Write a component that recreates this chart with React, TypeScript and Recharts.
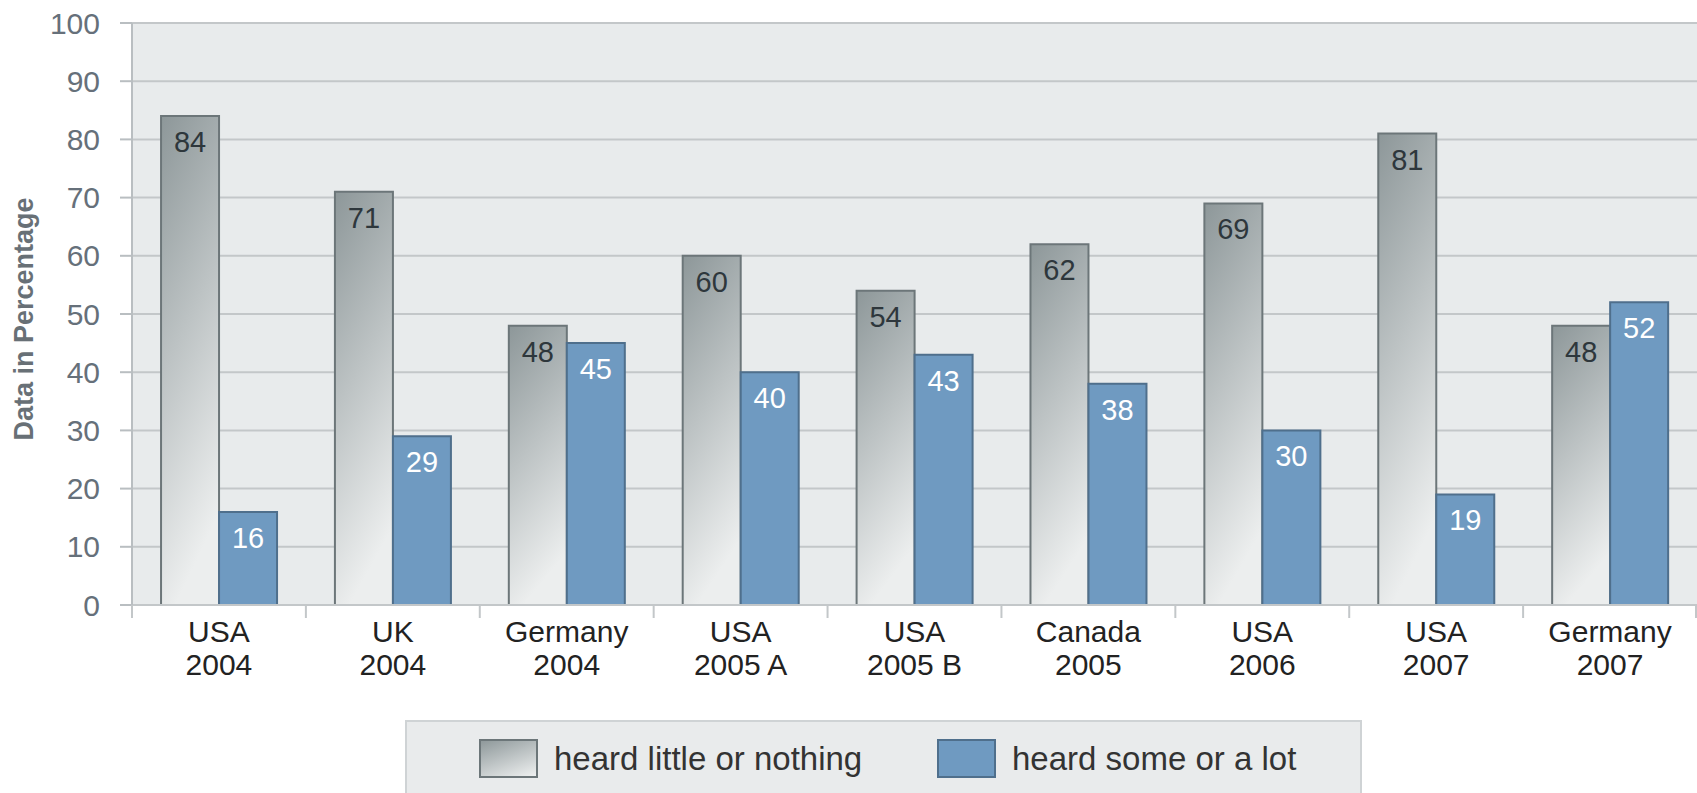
import { BarChart, Bar, XAxis, YAxis, CartesianGrid, Legend, LabelList } from 'recharts';

const categories = [
  'USA\n2004',
  'UK\n2004',
  'Germany\n2004',
  'USA\n2005 A',
  'USA\n2005 B',
  'Canada\n2005',
  'USA\n2006',
  'USA\n2007',
  'Germany\n2007',
];
const heardLittle = [84, 71, 48, 60, 54, 62, 69, 81, 48];
const heardSome = [16, 29, 45, 40, 43, 38, 30, 19, 52];
const yTicks = [0, 10, 20, 30, 40, 50, 60, 70, 80, 90, 100];
const seriesNames = ['heard little or nothing', 'heard some or a lot'];

const FONT = '"Liberation Sans", Arial, Helvetica, sans-serif';
const BLUE = '#6f9ac1';
const TICK_GREY = '#c3c7c9';

const data = categories.map((name, i) => ({
  name,
  little: heardLittle[i],
  some: heardSome[i],
}));

// two-line category label, plus tick marks on the band boundaries
const CategoryTick = ({ x, y, payload }: any) => {
  const lines = String(payload.value).split('\n');
  const half = Number(payload.offset) || 0;
  const isLast = payload.index === categories.length - 1;
  return (
    <g>
      <line x1={x - half} x2={x - half} y1={y} y2={y + 13} stroke={TICK_GREY} strokeWidth={2} />
      {isLast && (
        <line x1={x + half - 1} x2={x + half - 1} y1={y} y2={y + 13} stroke={TICK_GREY} strokeWidth={2} />
      )}
      <text x={x} y={y} textAnchor="middle" fill="#222" fontSize={30} fontFamily={FONT}>
        {lines.map((line, i) => (
          <tspan key={i} x={x} dy={i === 0 ? 37 : 33}>
            {line}
          </tspan>
        ))}
      </text>
    </g>
  );
};

const makeLabel = (color: string) => (props: any) => {
  const { x, y, width, value } = props;
  return (
    <text
      x={Number(x) + Number(width) / 2}
      y={Number(y) + 36}
      textAnchor="middle"
      fill={color}
      fontSize={29}
      fontFamily={FONT}
    >
      {value}
    </text>
  );
};

const LegendBox = () => (
  <div
    style={{
      position: 'relative',
      width: 957,
      height: 73,
      boxSizing: 'border-box',
      background: '#e9ebec',
      border: '2px solid #cfd3d5',
      borderBottom: 'none',
      fontFamily: FONT,
      fontSize: 33,
      color: '#333',
    }}
  >
    <div
      style={{
        position: 'absolute',
        left: 72,
        top: 17,
        width: 59,
        height: 39,
        boxSizing: 'border-box',
        border: '2px solid #6c7679',
        background: 'linear-gradient(160deg, #8f999b, #eef0f0)',
      }}
    />
    <div style={{ position: 'absolute', left: 147, top: 18, lineHeight: '38px', whiteSpace: 'nowrap' }}>
      {seriesNames[0]}
    </div>
    <div
      style={{
        position: 'absolute',
        left: 530,
        top: 17,
        width: 59,
        height: 39,
        boxSizing: 'border-box',
        border: '2px solid #4f6f8c',
        background: BLUE,
      }}
    />
    <div style={{ position: 'absolute', left: 605, top: 18, lineHeight: '38px', whiteSpace: 'nowrap' }}>
      {seriesNames[1]}
    </div>
  </div>
);

const YTitle = () => (
  <text
    transform="translate(33, 319) rotate(-90)"
    textAnchor="middle"
    fill="#687076"
    fontSize={27}
    fontWeight="bold"
    fontFamily={FONT}
  >
    Data in Percentage
  </text>
);

export default function App() {
  return (
    <div style={{ position: 'absolute', left: 0, top: 0 }}>
      <BarChart
        width={1697}
        height={793}
        data={data}
        margin={{ top: 23, right: 0, left: 0, bottom: 0 }}
        barCategoryGap="16.7%"
        barGap={0}
      >
        <defs>
          <linearGradient id="greyFill" x1="0" y1="0" x2="0.25" y2="1">
            <stop offset="0%" stopColor="#8d9799" />
            <stop offset="100%" stopColor="#eceeee" />
          </linearGradient>
        </defs>
        <CartesianGrid
          vertical={false}
          fill="#e8ebec"
          stroke={TICK_GREY}
          strokeWidth={2}
        />
        <XAxis
          dataKey="name"
          height={115}
          tickSize={0}
          tickMargin={0}
          tickLine={false}
          axisLine={{ stroke: TICK_GREY, strokeWidth: 2 }}
          tick={<CategoryTick />}
          interval={0}
        />
        <YAxis
          width={132}
          domain={[0, 100]}
          ticks={yTicks}
          tickSize={12}
          tickMargin={20}
          axisLine={{ stroke: '#b9bec1', strokeWidth: 2 }}
          tickLine={{ stroke: '#b9bec1', strokeWidth: 2 }}
          tick={{ fill: '#66707a', fontSize: 30, fontFamily: FONT }}
          label={<YTitle />}
        />
        <Legend
          verticalAlign="bottom"
          content={<LegendBox />}
          wrapperStyle={{ left: 405, top: 720, bottom: 'auto', width: 957, height: 73 }}
        />
        <Bar
          dataKey="little"
          name={seriesNames[0]}
          fill="url(#greyFill)"
          stroke="#6c7679"
          strokeWidth={2}
          isAnimationActive={false}
        >
          <LabelList dataKey="little" content={makeLabel('#2e373c')} />
        </Bar>
        <Bar
          dataKey="some"
          name={seriesNames[1]}
          fill={BLUE}
          stroke="#4f6f8c"
          strokeWidth={2}
          isAnimationActive={false}
        >
          <LabelList dataKey="some" content={makeLabel('#ffffff')} />
        </Bar>
      </BarChart>
    </div>
  );
}
